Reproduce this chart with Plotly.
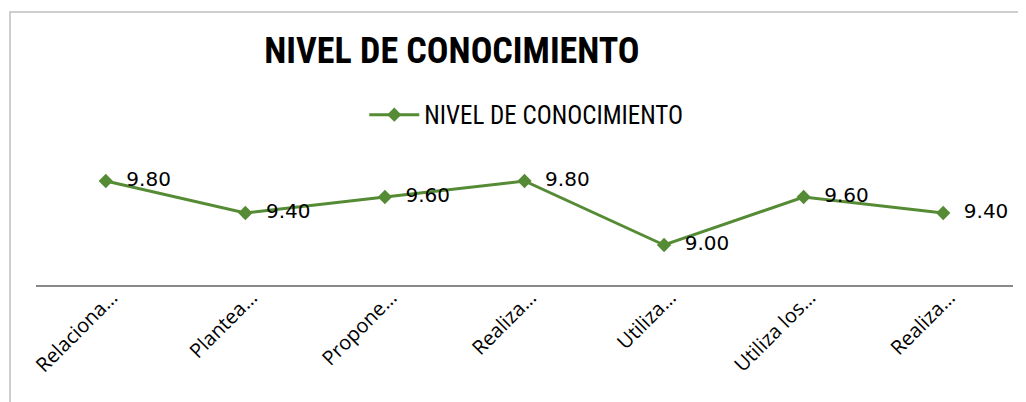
import plotly.graph_objects as go

categorias = ["Relaciona…", "Plantea…", "Propone…", "Realiza…", "Utiliza…", "Utiliza los…", "Realiza…"]
posiciones = [0, 1, 2, 3, 4, 5, 6]
nivel = [9.80, 9.40, 9.60, 9.80, 9.00, 9.60, 9.40]

verde = "#558B35"
narrow = "Roboto Condensed, sans-serif"

fig = go.Figure()
fig.add_trace(go.Scatter(
    x=posiciones,
    y=nivel,
    name="NIVEL DE CONOCIMIENTO",
    mode="lines+markers+text",
    line=dict(color=verde, width=3),
    marker=dict(symbol="diamond", size=11, color=verde),
    text=["  " + f"{v:.2f}" for v in nivel],
    textposition="middle right",
    textfont=dict(family="DejaVu Sans", size=20, color="#000000"),
))

# the page body adds an 8px offset, so the figure is laid out 8px up/left
fig.update_layout(
    width=1026,
    height=402,
    paper_bgcolor="white",
    plot_bgcolor="white",
    margin=dict(l=28, r=21, t=157, b=125),
    title=dict(
        text="<b>NIVEL DE CONOCIMIENTO</b>",
        x=0.4327, xanchor="center",
        y=0.8955, yanchor="middle",
        font=dict(family=narrow, size=36, color="#000000"),
    ),
    showlegend=True,
    legend=dict(
        orientation="h",
        x=0.336, xanchor="left",
        y=1.417, yanchor="middle",
        font=dict(family=narrow, size=25, color="#000000"),
        bgcolor="rgba(0,0,0,0)",
        itemwidth=50,
    ),
    xaxis=dict(
        tickmode="array",
        tickvals=posiciones,
        ticktext=categorias,
        range=[-0.5, 6.5],
        tickangle=-45,
        tickfont=dict(family="Open Sans", size=20, color="#000000"),
        ticklabelshift=6,
        ticklabelstandoff=-9,
        showline=True,
        linecolor="#898989",
        linewidth=2,
        showgrid=False,
        zeroline=False,
        ticks="",
        automargin=False,
    ),
    yaxis=dict(
        range=[8.5, 10.0],
        visible=False,
        showgrid=False,
        zeroline=False,
        automargin=False,
    ),
    shapes=[dict(
        type="rect",
        xref="paper", yref="paper",
        x0=(2 - 28) / 977, x1=(1040 - 28) / 977,
        y0=1 - (420 - 157) / 120, y1=1 + (157 - 4) / 120,
        line=dict(color="#BFBFBF", width=1.5),
        layer="below",
    )],
)

fig.write_html("out.html")
